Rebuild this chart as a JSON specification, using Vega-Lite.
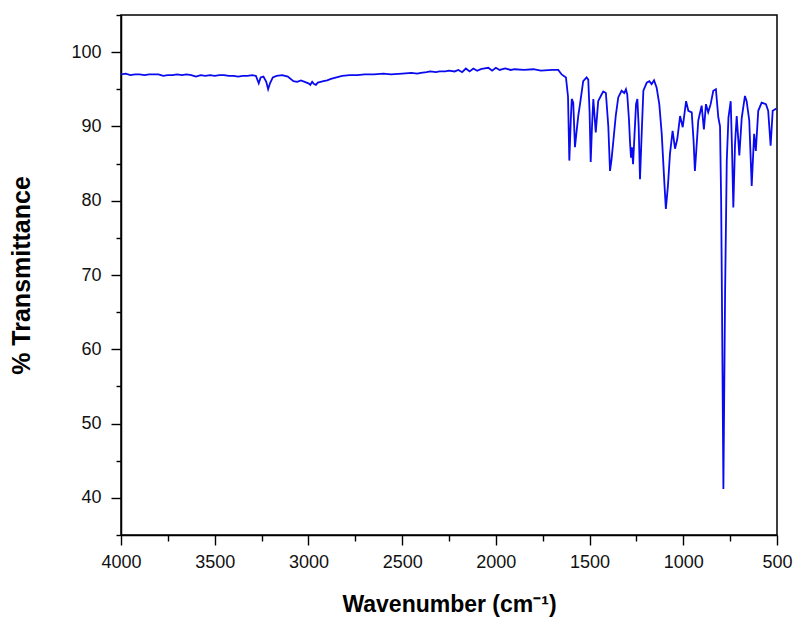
{
  "$schema": "https://vega.github.io/schema/vega-lite/v6.json",
  "autosize": {"type": "none"},
  "width": 656,
  "height": 520,
  "padding": {"left": 121, "top": 15, "right": 18, "bottom": 89},
  "background": "white",
  "config": {
    "view": {"stroke": "black", "strokeWidth": 1.5},
    "axis": {
      "grid": false,
      "domainColor": "black",
      "domainWidth": 1.5,
      "tickColor": "black",
      "tickWidth": 1.4,
      "labelFont": "Liberation Sans",
      "labelFontSize": 18,
      "labelColor": "#111111",
      "titleFont": "Liberation Sans",
      "titleFontWeight": "bold",
      "titleColor": "black"
    }
  },
  "data": {
    "values": [
      {"wn": 4000, "t": 97.0}, {"wn": 3975, "t": 97.1}, {"wn": 3950, "t": 96.9}, {"wn": 3925, "t": 97.0}, {"wn": 3900, "t": 97.0}, {"wn": 3875, "t": 96.9}, {"wn": 3850, "t": 97.0},
      {"wn": 3800, "t": 97.0}, {"wn": 3775, "t": 96.8}, {"wn": 3750, "t": 96.9}, {"wn": 3725, "t": 96.9}, {"wn": 3700, "t": 97.0}, {"wn": 3675, "t": 96.9}, {"wn": 3650, "t": 97.0},
      {"wn": 3625, "t": 96.9}, {"wn": 3600, "t": 96.7}, {"wn": 3575, "t": 96.9}, {"wn": 3550, "t": 96.8}, {"wn": 3525, "t": 96.9}, {"wn": 3500, "t": 96.8}, {"wn": 3475, "t": 96.9}, {"wn": 3450, "t": 96.9},
      {"wn": 3425, "t": 96.8}, {"wn": 3400, "t": 96.8}, {"wn": 3375, "t": 96.7}, {"wn": 3350, "t": 96.8}, {"wn": 3325, "t": 96.8}, {"wn": 3300, "t": 96.9}, {"wn": 3280, "t": 96.8},
      {"wn": 3265, "t": 95.8}, {"wn": 3255, "t": 96.6}, {"wn": 3240, "t": 96.7}, {"wn": 3225, "t": 96.0},
      {"wn": 3215, "t": 95.0}, {"wn": 3205, "t": 95.8}, {"wn": 3190, "t": 96.6}, {"wn": 3170, "t": 96.8},
      {"wn": 3140, "t": 96.9}, {"wn": 3110, "t": 96.7}, {"wn": 3080, "t": 96.1}, {"wn": 3060, "t": 96.0},
      {"wn": 3040, "t": 96.2}, {"wn": 3020, "t": 96.0}, {"wn": 3000, "t": 95.8}, {"wn": 2990, "t": 95.6},
      {"wn": 2980, "t": 96.0}, {"wn": 2970, "t": 95.7}, {"wn": 2960, "t": 95.6}, {"wn": 2950, "t": 95.9},
      {"wn": 2935, "t": 96.0}, {"wn": 2920, "t": 96.1}, {"wn": 2900, "t": 96.2}, {"wn": 2880, "t": 96.4},
      {"wn": 2850, "t": 96.6}, {"wn": 2820, "t": 96.8}, {"wn": 2780, "t": 96.9}, {"wn": 2740, "t": 96.9}, {"wn": 2700, "t": 97.0},
      {"wn": 2650, "t": 97.0}, {"wn": 2600, "t": 97.1}, {"wn": 2560, "t": 97.0}, {"wn": 2500, "t": 97.1}, {"wn": 2450, "t": 97.2}, {"wn": 2420, "t": 97.1}, {"wn": 2400, "t": 97.2},
      {"wn": 2370, "t": 97.3}, {"wn": 2350, "t": 97.4}, {"wn": 2320, "t": 97.3}, {"wn": 2300, "t": 97.4}, {"wn": 2270, "t": 97.4}, {"wn": 2250, "t": 97.5}, {"wn": 2220, "t": 97.4}, {"wn": 2200, "t": 97.6},
      {"wn": 2180, "t": 97.3}, {"wn": 2160, "t": 97.8}, {"wn": 2140, "t": 97.4}, {"wn": 2120, "t": 97.8},
      {"wn": 2100, "t": 97.5}, {"wn": 2080, "t": 97.7}, {"wn": 2060, "t": 97.8}, {"wn": 2040, "t": 97.9},
      {"wn": 2020, "t": 97.5}, {"wn": 2000, "t": 97.9}, {"wn": 1980, "t": 97.6}, {"wn": 1950, "t": 97.8},
      {"wn": 1920, "t": 97.6}, {"wn": 1900, "t": 97.7}, {"wn": 1850, "t": 97.6}, {"wn": 1800, "t": 97.7}, {"wn": 1760, "t": 97.5},
      {"wn": 1700, "t": 97.6}, {"wn": 1667, "t": 97.6}, {"wn": 1649, "t": 97.0}, {"wn": 1626, "t": 96.6},
      {"wn": 1615, "t": 94.0}, {"wn": 1608, "t": 85.4}, {"wn": 1600, "t": 91.0}, {"wn": 1595, "t": 93.7},
      {"wn": 1587, "t": 93.2}, {"wn": 1578, "t": 87.2}, {"wn": 1569, "t": 89.4}, {"wn": 1560, "t": 91.5},
      {"wn": 1551, "t": 93.0}, {"wn": 1534, "t": 96.1}, {"wn": 1516, "t": 96.6}, {"wn": 1507, "t": 96.3},
      {"wn": 1500, "t": 92.0}, {"wn": 1494, "t": 85.2}, {"wn": 1487, "t": 90.0}, {"wn": 1480, "t": 93.7},
      {"wn": 1467, "t": 89.2}, {"wn": 1454, "t": 93.4}, {"wn": 1436, "t": 94.3}, {"wn": 1427, "t": 94.7},
      {"wn": 1413, "t": 94.5}, {"wn": 1400, "t": 90.0}, {"wn": 1391, "t": 84.0}, {"wn": 1383, "t": 85.5},
      {"wn": 1373, "t": 88.1}, {"wn": 1360, "t": 91.5}, {"wn": 1347, "t": 93.9}, {"wn": 1329, "t": 94.8},
      {"wn": 1315, "t": 94.5}, {"wn": 1306, "t": 95.0}, {"wn": 1299, "t": 94.3}, {"wn": 1290, "t": 91.0},
      {"wn": 1284, "t": 87.8}, {"wn": 1279, "t": 85.8}, {"wn": 1274, "t": 87.2}, {"wn": 1268, "t": 84.9},
      {"wn": 1260, "t": 89.0}, {"wn": 1252, "t": 93.0}, {"wn": 1245, "t": 93.7}, {"wn": 1238, "t": 90.0},
      {"wn": 1231, "t": 82.9}, {"wn": 1222, "t": 89.0}, {"wn": 1213, "t": 94.8}, {"wn": 1195, "t": 95.9},
      {"wn": 1181, "t": 96.1}, {"wn": 1169, "t": 95.7}, {"wn": 1156, "t": 96.2}, {"wn": 1142, "t": 95.2},
      {"wn": 1128, "t": 93.0}, {"wn": 1115, "t": 89.0}, {"wn": 1100, "t": 82.0}, {"wn": 1093, "t": 78.9},
      {"wn": 1082, "t": 82.0}, {"wn": 1071, "t": 86.3}, {"wn": 1057, "t": 89.4}, {"wn": 1044, "t": 87.0},
      {"wn": 1032, "t": 88.3}, {"wn": 1017, "t": 91.4}, {"wn": 1003, "t": 89.9}, {"wn": 985, "t": 93.4},
      {"wn": 973, "t": 92.1}, {"wn": 955, "t": 91.9}, {"wn": 945, "t": 88.0}, {"wn": 938, "t": 84.0},
      {"wn": 930, "t": 87.0}, {"wn": 920, "t": 90.8}, {"wn": 902, "t": 92.8}, {"wn": 890, "t": 89.6},
      {"wn": 879, "t": 93.0}, {"wn": 867, "t": 91.9}, {"wn": 854, "t": 93.0}, {"wn": 840, "t": 94.8},
      {"wn": 826, "t": 95.0}, {"wn": 813, "t": 91.2}, {"wn": 804, "t": 90.0}, {"wn": 798, "t": 80.0},
      {"wn": 794, "t": 67.6}, {"wn": 786, "t": 41.2}, {"wn": 777, "t": 67.6}, {"wn": 768, "t": 85.4},
      {"wn": 759, "t": 91.2}, {"wn": 747, "t": 93.4}, {"wn": 740, "t": 87.0}, {"wn": 733, "t": 79.1},
      {"wn": 724, "t": 87.6}, {"wn": 715, "t": 91.4}, {"wn": 701, "t": 86.1}, {"wn": 688, "t": 91.2},
      {"wn": 671, "t": 94.1}, {"wn": 662, "t": 93.4}, {"wn": 648, "t": 90.8}, {"wn": 635, "t": 82.0},
      {"wn": 622, "t": 89.0}, {"wn": 613, "t": 86.7}, {"wn": 600, "t": 92.1}, {"wn": 582, "t": 93.2},
      {"wn": 559, "t": 93.0}, {"wn": 547, "t": 92.1}, {"wn": 534, "t": 87.4}, {"wn": 523, "t": 92.1},
      {"wn": 503, "t": 92.4}
    ]
  },
  "mark": {"type": "line", "color": "#0a0af0", "strokeWidth": 1.8, "clip": true},
  "encoding": {
    "x": {
      "field": "wn",
      "type": "quantitative",
      "sort": null,
      "scale": {"domain": [500, 4000], "reverse": true, "nice": false, "zero": false},
      "axis": {
        "title": "Wavenumber (cm⁻¹)",
        "titleFontSize": 23,
        "values": [4000, 3750, 3500, 3250, 3000, 2750, 2500, 2250, 2000, 1750, 1500, 1250, 1000, 750, 500],
        "labelExpr": "datum.value % 500 === 0 ? format(datum.value, 'd') : ''",
        "tickSize": {"condition": {"test": "datum.value % 500 === 0", "value": 10}, "value": 6},
        "labelPadding": 8,
        "labelFlush": false,
        "labelOverlap": false,
        "titlePadding": 22
      }
    },
    "y": {
      "field": "t",
      "type": "quantitative",
      "scale": {"domain": [35, 105], "nice": false, "zero": false},
      "axis": {
        "title": "% Transmittance",
        "titleFontSize": 25,
        "values": [35, 40, 45, 50, 55, 60, 65, 70, 75, 80, 85, 90, 95, 100, 105],
        "labelExpr": "datum.value % 10 === 0 ? format(datum.value, 'd') : ''",
        "tickSize": {"condition": {"test": "datum.value % 10 === 0", "value": 10}, "value": 5},
        "labelPadding": 10,
        "labelOverlap": false,
        "titlePadding": 36
      }
    }
  }
}
